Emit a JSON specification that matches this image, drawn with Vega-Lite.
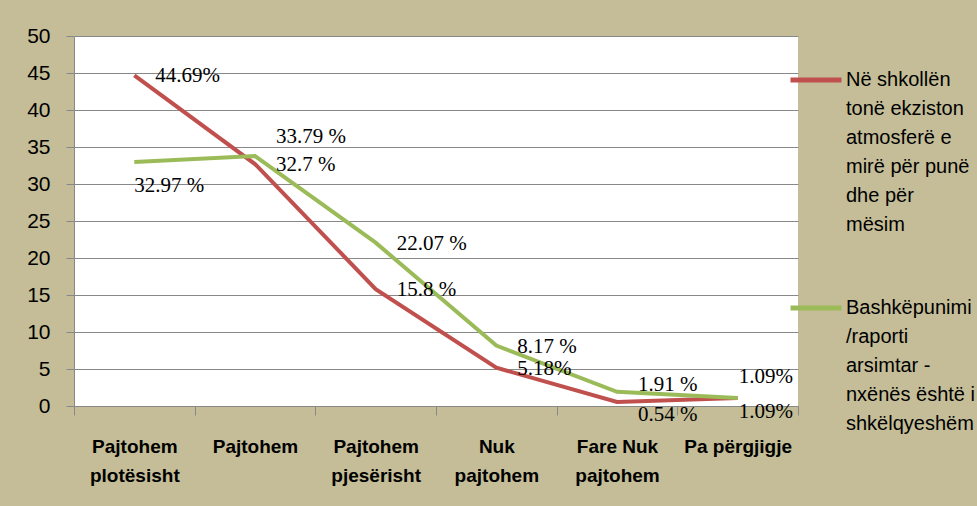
{
  "$schema": "https://vega.github.io/schema/vega-lite/v6.json",
  "width": 724,
  "height": 370,
  "autosize": {"type": "none"},
  "padding": {"left": 74, "top": 36, "right": 179, "bottom": 100},
  "background": "#C4BD97",
  "config": {"view": {"fill": "white", "stroke": null}, "font": "Liberation Sans", "style": {"guide-label": {"lineHeight": 29}}},
  "data": {"values": [
    {"cat": "Pajtohem plotësisht", "series": "Në shkollën tonë ekziston atmosferë e mirë për punë dhe për mësim", "value": 44.69, "label": "44.69%"},
    {"cat": "Pajtohem", "series": "Në shkollën tonë ekziston atmosferë e mirë për punë dhe për mësim", "value": 32.7, "label": "32.7 %"},
    {"cat": "Pajtohem pjesërisht", "series": "Në shkollën tonë ekziston atmosferë e mirë për punë dhe për mësim", "value": 15.8, "label": "15.8 %"},
    {"cat": "Nuk pajtohem", "series": "Në shkollën tonë ekziston atmosferë e mirë për punë dhe për mësim", "value": 5.18, "label": "5.18%"},
    {"cat": "Fare Nuk pajtohem", "series": "Në shkollën tonë ekziston atmosferë e mirë për punë dhe për mësim", "value": 0.54, "label": "0.54 %"},
    {"cat": "Pa përgjigje", "series": "Në shkollën tonë ekziston atmosferë e mirë për punë dhe për mësim", "value": 1.09, "label": "1.09%"},
    {"cat": "Pajtohem plotësisht", "series": "Bashkëpunimi /raporti arsimtar - nxënës është i shkëlqyeshëm", "value": 32.97, "label": "32.97 %"},
    {"cat": "Pajtohem", "series": "Bashkëpunimi /raporti arsimtar - nxënës është i shkëlqyeshëm", "value": 33.79, "label": "33.79 %"},
    {"cat": "Pajtohem pjesërisht", "series": "Bashkëpunimi /raporti arsimtar - nxënës është i shkëlqyeshëm", "value": 22.07, "label": "22.07 %"},
    {"cat": "Nuk pajtohem", "series": "Bashkëpunimi /raporti arsimtar - nxënës është i shkëlqyeshëm", "value": 8.17, "label": "8.17 %"},
    {"cat": "Fare Nuk pajtohem", "series": "Bashkëpunimi /raporti arsimtar - nxënës është i shkëlqyeshëm", "value": 1.91, "label": "1.91 %"},
    {"cat": "Pa përgjigje", "series": "Bashkëpunimi /raporti arsimtar - nxënës është i shkëlqyeshëm", "value": 1.09, "label": "1.09% "}
  ]},
  "encoding": {
    "x": {
      "field": "cat", "type": "nominal", "bandPosition": 0.5,
      "sort": ["Pajtohem plotësisht", "Pajtohem", "Pajtohem pjesërisht", "Nuk pajtohem", "Fare Nuk pajtohem", "Pa përgjigje"],
      "scale": {"type": "band", "paddingInner": 0, "paddingOuter": 0},
      "axis": {
        "title": null, "labelAngle": 0, "tickBand": "extent",
        "domainColor": "#888888", "tickColor": "#888888", "tickSize": 9, "grid": false,
        "labelFont": "Liberation Sans", "labelFontWeight": "bold", "labelFontSize": 19, "labelColor": "#000000",
        "labelPadding": 22, "labelLineHeight": 29, "labelBaseline": "top",
        "labelExpr": "!isValid(datum.value) ? '' : datum.value == 'Fare Nuk pajtohem' ? ['Fare Nuk', 'pajtohem'] : datum.value == 'Pa përgjigje' ? 'Pa përgjigje' : split(datum.value, ' ')"
      }
    },
    "y": {
      "field": "value", "type": "quantitative",
      "scale": {"domain": [0, 50], "nice": false},
      "axis": {
        "title": null, "values": [0, 5, 10, 15, 20, 25, 30, 35, 40, 45, 50],
        "domainColor": "#888888", "tickColor": "#888888", "tickSize": 8, "gridColor": "#888888", "gridWidth": 1,
        "labelFont": "Liberation Sans", "labelFontSize": 21, "labelColor": "#000000", "labelPadding": 16
      }
    }
  },
  "layer": [
    {
      "mark": {"type": "line", "strokeWidth": 4},
      "encoding": {
        "color": {
          "field": "series", "type": "nominal",
          "scale": {"domain": ["Në shkollën tonë ekziston atmosferë e mirë për punë dhe për mësim", "Bashkëpunimi /raporti arsimtar - nxënës është i shkëlqyeshëm"], "range": ["#C0504D", "#9BBB59"]},
          "legend": {
            "title": null, "orient": "none", "legendX": 714, "legendY": 16,
            "symbolType": "stroke", "symbolStrokeWidth": 5, "symbolSize": 2601,
            "labelFont": "Liberation Sans", "labelFontSize": 20, "labelColor": "#000000", "labelLimit": 400,
            "labelOffset": 2, "rowPadding": 45,
            "labelExpr": "datum.label[0] == 'N' ? [' Në shkollën', 'tonë ekziston', 'atmosferë e', 'mirë për punë', 'dhe për', 'mësim'] : ['Bashkëpunimi', '/raporti', 'arsimtar -', 'nxënës është i', 'shkëlqyeshëm']"
          }
        }
      }
    },
    {
      "transform": [{"filter": {"field": "label", "oneOf": ["44.69%", "32.7 %", "15.8 %", "5.18%", "22.07 %", "8.17 %"]}}],
      "mark": {"type": "text", "align": "left", "baseline": "middle", "dx": 21, "dy": 1, "font": "Liberation Serif", "fontSize": 21, "color": "#000000"},
      "encoding": {"text": {"field": "label"}}
    },
    {
      "transform": [{"filter": {"field": "label", "equal": "0.54 %"}}],
      "mark": {"type": "text", "align": "left", "baseline": "middle", "dx": 21, "dy": 13, "font": "Liberation Serif", "fontSize": 21, "color": "#000000"},
      "encoding": {"text": {"field": "label"}}
    },
    {
      "transform": [{"filter": {"field": "label", "equal": "1.91 %"}}],
      "mark": {"type": "text", "align": "left", "baseline": "middle", "dx": 21, "dy": -7, "font": "Liberation Serif", "fontSize": 21, "color": "#000000"},
      "encoding": {"text": {"field": "label"}}
    },
    {
      "transform": [{"filter": {"field": "label", "equal": "33.79 %"}}],
      "mark": {"type": "text", "align": "left", "baseline": "middle", "dx": 21, "dy": -19, "font": "Liberation Serif", "fontSize": 21, "color": "#000000"},
      "encoding": {"text": {"field": "label"}}
    },
    {
      "transform": [{"filter": {"field": "label", "equal": "32.97 %"}}],
      "mark": {"type": "text", "align": "left", "baseline": "middle", "dx": 0, "dy": 24, "font": "Liberation Serif", "fontSize": 21, "color": "#000000"},
      "encoding": {"text": {"field": "label"}}
    },
    {
      "transform": [{"filter": {"field": "label", "equal": "1.09%"}}],
      "mark": {"type": "text", "align": "left", "baseline": "middle", "dx": 1, "dy": 14, "font": "Liberation Serif", "fontSize": 21, "color": "#000000"},
      "encoding": {"text": {"field": "label"}}
    },
    {
      "transform": [{"filter": {"field": "label", "equal": "1.09% "}}],
      "mark": {"type": "text", "align": "left", "baseline": "middle", "dx": 1, "dy": -21, "font": "Liberation Serif", "fontSize": 21, "color": "#000000"},
      "encoding": {"text": {"field": "label"}}
    }
  ]
}
